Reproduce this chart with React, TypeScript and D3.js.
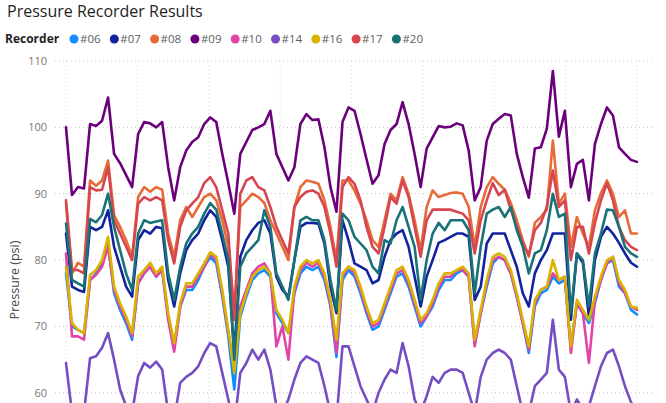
import React from "react";
import * as d3 from "d3";

const recorders = ["#06", "#07", "#08", "#09", "#10", "#14", "#16", "#17", "#20"];
const yTicks = [60, 70, 80, 90, 100, 110];
const dayTicks = [0, 2, 4, 6, 8, 10, 12, 14, 16];

const s06 = [78, 70, 69.5, 69, 77, 78, 79.5, 82.5, 75, 72.5, 70.5, 68, 76.5, 78, 79, 77.5, 78.5, 71.5, 67, 73, 75.5, 75.5, 77, 79, 80.5, 79.5, 74.5, 68.5, 60.5, 71.5, 74.5, 77, 78, 78.5, 77.5, 72, 70.5, 69, 75, 78, 79, 78.5, 79, 77, 73, 65.4, 77, 78.5, 77.5, 75, 72, 69.5, 70, 72.5, 75, 77.5, 78, 76, 73, 70, 71.5, 73, 75.5, 77, 77, 78, 78.5, 77.5, 67.5, 72, 76, 79.5, 80.5, 80, 78, 74.5, 70.5, 66, 73, 75, 75.5, 77.5, 76.5, 77, 67, 73.5, 72, 70.5, 73.5, 77, 79.5, 80, 76, 75, 72.5, 71.8];
const s07 = [84, 76, 75.5, 75.2, 85, 84.5, 85, 87.5, 82, 79, 76, 74.5, 83, 84.5, 84, 85, 84.8, 77, 73, 78, 81.5, 83, 84, 86, 87.5, 86.5, 83, 79, 66, 80.5, 83, 84.5, 85.6, 86, 84, 77.5, 75.5, 74.5, 80, 85, 85.6, 85.6, 85.5, 82.5, 76, 72, 86, 83, 79.5, 79, 78.5, 76.5, 77, 80.5, 83, 84, 84.5, 82, 77.5, 73, 77.5, 80, 82.6, 83, 83.5, 84, 84, 83.5, 74, 76, 82.5, 84, 84, 84, 81.5, 79, 75, 73, 78, 80, 81.5, 84, 84, 84, 71, 81, 79.6, 71.5, 80, 83.5, 85, 84, 82.6, 81, 79.6, 79];
const s08 = [88.5, 78, 79.6, 79, 92, 91.2, 92, 95, 86.8, 85, 83, 80.5, 89.5, 91, 90.3, 91, 90.6, 84, 80.5, 86, 88, 86.5, 88, 89.5, 90, 89, 86, 82, 72, 88, 89, 90, 89.5, 88.6, 86, 84, 82, 80, 88, 91, 92, 91.8, 91.5, 89, 85, 80, 92, 92, 90.5, 88.5, 86, 83, 82, 86, 90, 89, 92.5, 90, 86, 81.5, 88, 90.5, 89.5, 89.8, 90.1, 90.2, 90, 88, 82, 88, 91, 92.5, 91.5, 90.6, 88.6, 86, 83, 80.5, 85.6, 86.5, 87.6, 98, 88.5, 90, 82, 86.5, 84, 82, 87.5, 90.1, 92, 90, 86.5, 87.5, 84, 84];
const s09 = [100, 89.8, 91, 90.8, 100.5, 100.2, 101, 104.5, 96, 94.6, 92.8, 91, 99, 100.8, 100.6, 100, 100.8, 94, 89, 94, 96.5, 97.8, 98.5, 100.5, 101.5, 100.8, 96, 91.6, 87, 96, 97.8, 99.6, 100, 100.5, 102.5, 96, 94, 92, 94, 100.5, 102, 101.1, 101.2, 97, 91, 87.3, 100.8, 103, 102.5, 99, 95.2, 91.5, 92.8, 97.5, 99.6, 100.5, 103.8, 100.5, 96, 91, 96.8, 98.5, 100.2, 100, 100.1, 100.6, 100.3, 96.5, 89, 91, 98, 100.5, 101.3, 102, 101.8, 96, 92.5, 89.4, 96.8, 97, 99.8, 108.5, 98.6, 102.5, 91, 94.5, 95.1, 89, 97.5, 100.5, 103, 101.8, 97, 96, 95.1, 94.8];
const s10 = [81, 68.5, 68.5, 68, 77, 77.8, 79, 82, 75.5, 73, 71, 68.5, 76.5, 78, 79, 77.5, 78.5, 71, 66.2, 73, 76, 76, 77.5, 79, 81, 80, 75, 69, 64, 73, 75.5, 78, 79, 79.5, 78, 67, 70, 65, 75.5, 78.5, 79.6, 79, 79.6, 77.5, 73.5, 66, 77.5, 79, 78, 75.5, 72.5, 70, 70.5, 73, 75.5, 78, 78.5, 76.5, 73.5, 70.5, 71.5, 73.5, 76, 77.5, 77.5, 78.5, 78.5, 77.5, 67, 72, 76.5, 80, 80.5, 80, 78, 74.5, 70.5, 66.5, 73.5, 75.5, 76, 78, 77, 77.5, 66, 73.5, 72, 64.5, 74, 77, 79.5, 80.5, 76.5, 75, 73, 72.5];
const s14 = [64.5, 57, 57, 57, 65.2, 65.5, 66.8, 69, 65, 60.5, 58, 57, 62.5, 64.5, 63.8, 64.7, 63.5, 57, 56, 61.5, 62.4, 63, 64, 66, 67.5, 67, 63, 59, 55, 63, 64.5, 66.5, 65, 66.5, 63.5, 58, 57, 59, 62, 64.5, 65.5, 65, 64.5, 61, 57, 56, 67, 67, 64, 61, 59, 57, 60, 62, 63.5, 63, 67.5, 64, 59, 57, 59.5, 62.4, 61.5, 63, 63.5, 63.5, 63, 60, 57, 62.4, 65, 66, 66.5, 66, 65, 61, 57, 57, 61, 62, 63, 71, 63.5, 62.4, 57, 59, 57.5, 58, 61, 64, 66, 66.5, 64, 61, 58.6, 57];
const s16 = [79, 70.5, 69.5, 69, 77.8, 78.5, 80, 83.5, 76, 73.5, 71.5, 69, 77.5, 78.5, 79.6, 78, 79, 72, 67.5, 73.5, 76.5, 76.5, 78, 79.5, 81.2, 80.5, 75.5, 69.5, 63, 72, 75, 77.5, 78.5, 79, 78, 72.5, 71, 69, 76, 79, 80, 79.5, 80, 78, 74, 68, 78, 79, 78.5, 76, 73, 70.5, 71, 73.5, 76, 78.5, 79, 77, 74, 71, 72, 74, 76.5, 78, 78, 78.5, 79, 78, 68, 72.5, 77, 80.5, 81, 80.5, 78.5, 75, 71, 67, 74, 75.5, 76, 80, 77, 77.5, 67, 74, 72.5, 71, 74.5, 77.5, 80, 80.5, 77, 75.5, 73, 72.8];
const s17 = [89, 78.5, 78.5, 78, 91, 90.5, 90.6, 94, 86, 84, 82, 80, 88.5, 89.5, 89, 89.5, 89, 83, 79.5, 85, 87.5, 88.5, 89.5, 91.6, 92.5, 91, 87.5, 84, 71, 90, 92, 92.5, 91, 90.5, 88, 85, 83, 81, 88, 89.5, 90.3, 90.5, 90, 88, 84, 79, 91, 92.5, 91.5, 89, 85, 82, 81, 85, 89.5, 88.5, 92, 89.5, 85, 80.5, 86, 87.6, 87.6, 87.6, 87.6, 87.3, 87, 86, 81, 86, 89, 91.6, 89.8, 90.6, 87.6, 85, 82.5, 80.8, 84.5, 85.6, 88, 93.5, 88, 89, 80, 85, 85, 81, 85.6, 89, 91.6, 89, 85, 83, 82, 81.5];
const s20 = [85.5, 77, 76.5, 76, 86.2, 85.7, 86.8, 90, 85, 81.5, 78, 75.5, 84, 86, 85.6, 85.8, 86, 78, 74, 79, 82.5, 84, 85, 87, 88.6, 87.6, 84, 80, 65, 79, 81, 82, 83, 87.5, 85, 78, 76, 74, 80, 86, 86.5, 86, 86, 83, 77, 72.5, 87, 86, 83.5, 82.5, 81.5, 79, 78, 83, 82.5, 86, 88, 85, 82, 74, 80, 84, 85.6, 84.5, 86, 86, 86, 84.5, 75, 82, 87, 87.6, 88, 86.5, 88, 84.5, 82, 78, 81, 81.5, 84.5, 90, 86.5, 87, 72, 81, 80, 73, 81, 84, 87.6, 87.5, 85, 82, 81, 80.5];

const seriesValues = [s06, s07, s08, s09, s10, s14, s16, s17, s20];
const palette = ["#118DFF", "#12239E", "#E66C37", "#6B007B", "#E044A7", "#744EC2", "#D9B300", "#D64550", "#197278"];

const W = 666;
const H = 403;

export default function App() {
  const n = s09.length;
  const days = d3.range(n).map((i) => (i * 16) / (n - 1));
  const x = d3.scaleLinear().domain([0, 16]).range([66, 637]);
  const y = d3.scaleLinear().domain([44, 110]).range([499, 61]);
  const line = d3
    .line<number>()
    .x((_, i) => x(days[i]))
    .y((v) => y(v))
    .curve(d3.curveLinear);

  const legendStart = 74;
  const legendStep = 40.3;

  return (
    <svg width={W} height={H} style={{ position: "absolute", left: 0, top: 0, background: "#fff" }} fontFamily="'Open Sans', sans-serif">
      <text x={7} y={17} fontSize={16} fill="#252423">Pressure Recorder Results</text>
      <text x={5} y={43} fontSize={12} fontWeight="bold" fill="#252423">Recorder</text>
      {recorders.map((r, k) => (
        <g key={r}>
          <circle cx={legendStart + k * legendStep} cy={39} r={4.5} fill={palette[k]} />
          <text x={legendStart + k * legendStep + 6} y={43} fontSize={11.5} fill="#605E5C">{r}</text>
        </g>
      ))}
      {yTicks.map((t) => (
        <g key={t}>
          <line x1={55} x2={655} y1={y(t)} y2={y(t)} stroke="#C8C8C8" strokeDasharray="1 3" />
          <text x={47} y={y(t) + 4} fontSize={11} fill="#777" textAnchor="end">{t}</text>
        </g>
      ))}
      {dayTicks.map((d) => (
        <line key={d} x1={x(d)} x2={x(d)} y1={y(110)} y2={H} stroke="#D6D6D6" strokeDasharray="1 3" />
      ))}
      <text transform={`translate(19,${(y(44) + y(110)) / 2}) rotate(-90)`} fontSize={12.5} fill="#444" textAnchor="middle">Pressure (psi)</text>
      {seriesValues.map((vals, k) => (
        <path key={k} d={line(vals) || ""} fill="none" stroke={palette[k]} strokeWidth={2.6} strokeLinejoin="round" strokeLinecap="round" />
      ))}
    </svg>
  );
}
